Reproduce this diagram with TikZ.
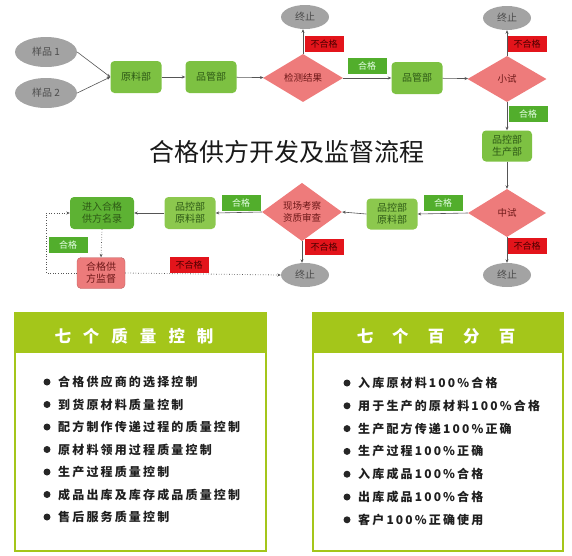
\documentclass[tikz,border=0pt]{standalone}
\usepackage{fontspec}
\setmainfont{Noto Sans CJK SC}
\newfontfamily\cjkls[LetterSpace=18]{Noto Sans CJK SC}
\usetikzlibrary{shapes.geometric,arrows.meta}
\definecolor{boxgreen}{HTML}{7DC142}
\definecolor{boxgreenL}{HTML}{8CC84E}
\definecolor{boxgreenD}{HTML}{5DB233}
\definecolor{gtext}{HTML}{2E5A16}
\definecolor{diapink}{HTML}{EE7B7B}
\definecolor{diatext}{HTML}{6E1818}
\definecolor{ellgray}{HTML}{A3A3A3}
\definecolor{lblgreen}{HTML}{52AE2C}
\definecolor{lblred}{HTML}{E3141B}
\definecolor{monpink}{HTML}{EC7B7B}
\definecolor{hdrgreen}{HTML}{A4C61A}
\definecolor{linegray}{HTML}{555555}
\tikzset{
  gbox/.style={rounded corners=4pt, fill=boxgreen, minimum width=51pt, minimum height=32pt,
    font=\fontsize{10}{12}\selectfont, text=gtext, align=center, inner sep=1pt},
  dia/.style={diamond, fill=diapink, minimum width=80pt, minimum height=48pt, inner sep=0pt,
    font=\fontsize{9.5}{11.5}\selectfont, text=diatext, align=center},
  ell/.style={ellipse, fill=ellgray, minimum width=48pt, minimum height=24pt, inner sep=0pt,
    font=\fontsize{10}{12}\selectfont, text=black!70},
  smp/.style={ellipse, fill=ellgray, minimum width=62pt, minimum height=30pt, inner sep=0pt,
    font=\fontsize{10}{12}\selectfont, text=black!70},
  okl/.style={fill=lblgreen, minimum width=39pt, minimum height=16pt, inner sep=0pt,
    font=\fontsize{9}{10}\selectfont, text=green!10},
  nol/.style={fill=lblred, minimum width=39pt, minimum height=16pt, inner sep=0pt,
    font=\fontsize{9}{10}\selectfont, text=red!30!black},
  conn/.style={draw=linegray, line width=0.6pt, -{Stealth[length=3.5pt,width=3pt]}},
  dconn/.style={conn, dotted, line width=0.8pt},
  hdr/.style={text=white, font=\fontsize{16.5}{18}\selectfont\bfseries},
  item/.style={anchor=west, text=black!88, font=\cjkls\fontsize{12}{14}\selectfont\bfseries, inner sep=0pt},
  bul/.style={circle, fill=black!85, inner sep=0pt, minimum size=7pt}
}
\begin{document}
\begin{tikzpicture}[x=1pt,y=-1pt]
\useasboundingbox (0,0) rectangle (572,555);
% top row
\node[smp] (s1) at (46,52) {样品 1};
\node[smp] (s2) at (46,93) {样品 2};
\node[gbox] (ylb) at (136,77) {原料部};
\node[gbox] (pgb1) at (211,77) {品管部};
\node[dia] (jcjg) at (303,78) {检测结果};
\node[ell] (end1) at (305,17) {终止};
\node[nol] (no1) at (324,44) {不合格};
\node[okl] (ok1) at (367,66) {合格};
\node[gbox] (pgb2) at (417,78) {品管部};
\node[dia, minimum width=79pt, minimum height=46pt] (xs) at (507,79) {小试};
\node[ell] (end2) at (507,18) {终止};
\node[nol] (no2) at (527,44) {不合格};
\node[okl] (ok2) at (528,114) {合格};
\node[gbox, minimum width=50pt, minimum height=31pt] (pksc) at (507,146) {品控部\\生产部};
% title
\node[font=\fontsize{25}{30}\selectfont, text=black!90] (title) at (287,152) {合格供方开发及监督流程};
% middle row
\node[dia, minimum width=78pt] (zs) at (507,213) {中试};
\node[okl] (ok3) at (443,203) {合格};
\node[gbox, fill=boxgreenL, minimum height=31pt] (pkyl2) at (392,214) {品控部\\原料部};
\node[dia] (xc) at (302,212) {现场考察\\资质审查};
\node[nol] (no3) at (324,247) {不合格};
\node[ell] (end3) at (305,275) {终止};
\node[nol] (no4) at (527,246) {不合格};
\node[ell] (end4) at (507,275) {终止};
\node[okl] (ok4) at (241,203) {合格};
\node[gbox, fill=boxgreenL, minimum height=32pt] (pkyl1) at (190,213) {品控部\\原料部};
\node[gbox, fill=boxgreenD, minimum width=64pt] (jr) at (102,213) {进入合格\\供方名录};
\node[gbox, fill=monpink, draw=monpink!80!black, line width=0.4pt, text=diatext, minimum width=48pt, minimum height=31pt] (jd) at (101,273) {合格供\\方监督};
\node[okl] (ok5) at (68,245) {合格};
\node[nol] (no5) at (189,265) {不合格};
\coordinate (lb) at (46,273);
\coordinate (lt) at (46,213);
% connectors
\draw[conn] (s1.east) -- (ylb.west);
\draw[conn] (s2.east) -- (ylb.west);
\draw[conn] (ylb) -- (pgb1);
\draw[conn] (pgb1) -- (jcjg);
\draw[conn] (jcjg.north) -- (jcjg.north |- end1.south);
\draw[conn] (jcjg) -- (pgb2);
\draw[conn] (pgb2) -- (xs);
\draw[conn] (xs.north) -- (end2.south);
\draw[conn] (xs.south) -- (pksc.north);
\draw[conn] (pksc.south) -- (zs.north);
\draw[conn] (zs.south) -- (end4.north);
\draw[conn] (zs.west) -- (pkyl2.east);
\draw[conn] (pkyl2.west) -- (xc.east);
\draw[conn] (xc.south) -- (xc.south |- end3.north);
\draw[conn] (xc.west) -- (pkyl1.east);
\draw[conn] (pkyl1.west) -- (jr.east);
\draw[dconn] (jr.south) -- (jd.north);
\draw[dconn] (jd.west) -- (lb) -- (lt) -- (jr.west);
\draw[dconn] (jd.east) -- (end3.west);
% bottom panels
\fill[hdrgreen] (15,313) rectangle (266,353);
\draw[hdrgreen, line width=1.4pt] (15,313) rectangle (266,551);
\node[hdr] (h1) at (134,336) {七\hspace{12pt}个\hspace{12pt}质\hspace{12pt}量\hspace{12pt}控\hspace{12pt}制};
\fill[hdrgreen] (313,313) rectangle (563,353);
\draw[hdrgreen, line width=1.4pt] (313,313) rectangle (563,551);
\node[hdr] (h2) at (436,336) {七\hspace{19pt}个\hspace{19pt}百\hspace{19pt}分\hspace{19pt}百};
\foreach \t [count=\i from 0] in {合格供应商的选择控制, 到货原材料质量控制, 配方制作传递过程的质量控制, 原材料领用过程质量控制, 生产过程质量控制, 成品出库及库存成品质量控制, 售后服务质量控制}{
  \node[bul] (lb\i) at (47,382+22.5*\i) {};
  \node[item] (lt\i) at (58,382+22.5*\i) {\t};
}
\foreach \t [count=\i from 0] in {入库原材料100\%合格, 用于生产的原材料100\%合格, 生产配方传递100\%正确, 生产过程100\%正确, 入库成品100\%合格, 出库成品100\%合格, 客户100\%正确使用}{
  \node[bul] (rb\i) at (347,383+22.8*\i) {};
  \node[item] (rt\i) at (358,383+22.8*\i) {\t};
}
\end{tikzpicture}
\end{document}
